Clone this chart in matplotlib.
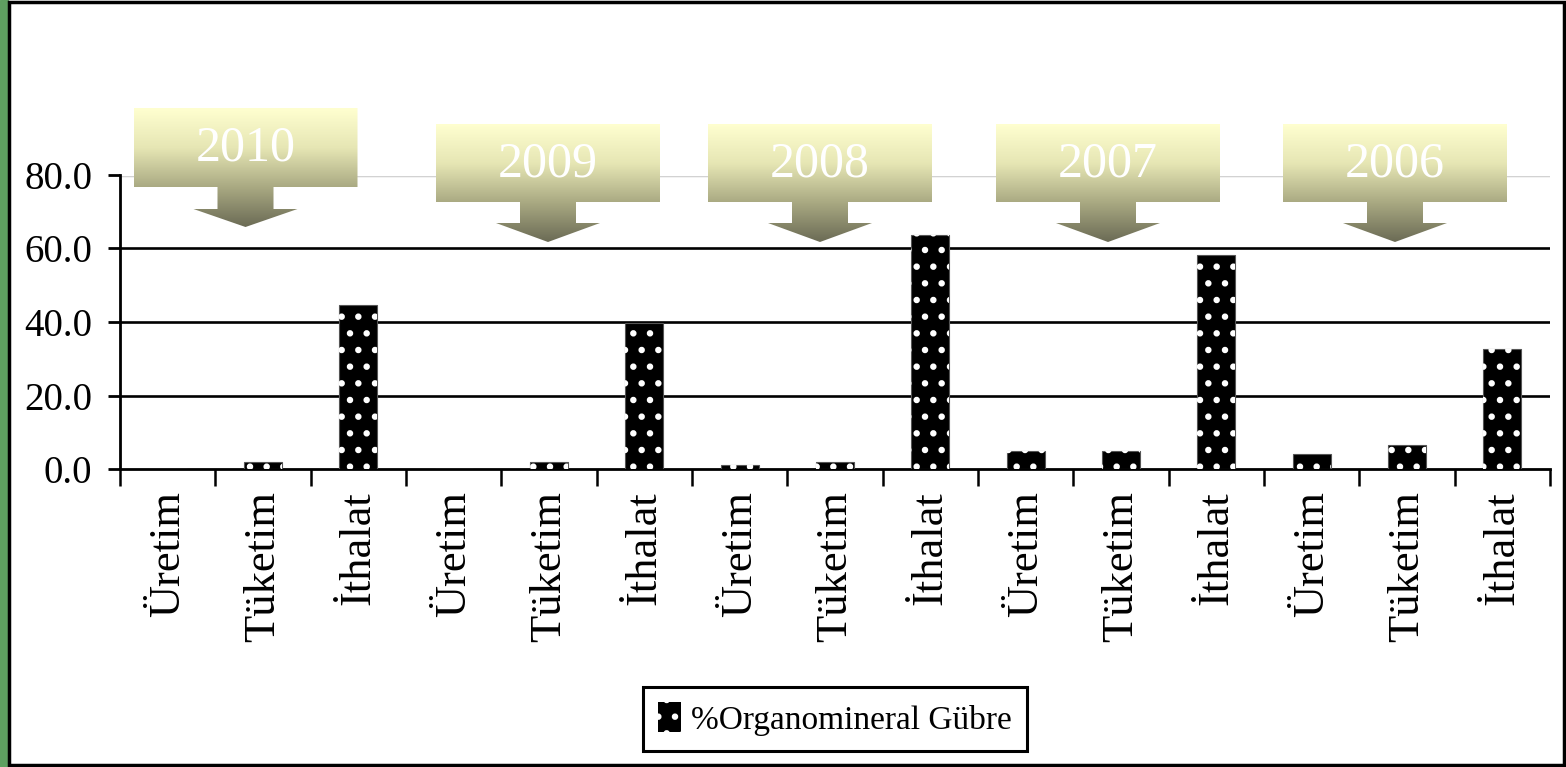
import matplotlib.pyplot as plt
import numpy as np
from matplotlib.patches import Patch, Polygon, Rectangle

# data
years = ["2010", "2009", "2008", "2007", "2006"]
kinds = ["Üretim", "Tüketim", "İthalat"]
uretim = [0.0, 0.0, 1.0, 4.9, 4.1]
tuketim = [1.8, 1.8, 2.0, 4.9, 6.5]
ithalat = [44.6, 39.7, 63.7, 58.2, 32.6]
series_name = "%Organomineral Gübre"
y_ticks = [0.0, 20.0, 40.0, 60.0, 80.0]

W, H = 1566, 767
SERIF = "Liberation Serif"
plt.rcParams["hatch.linewidth"] = 2.2

labels = []
vals = []
for i in range(len(years)):
    labels += kinds
    vals += [uretim[i], tuketim[i], ithalat[i]]
x = np.arange(len(vals)) + 0.5

fig = plt.figure(figsize=(W / 100, H / 100), dpi=100, facecolor="white")
ax = fig.add_axes([120 / W, 1 - 469 / H, 1430 / W, (469 - 175) / H])
ax.set_xlim(0, len(vals))
ax.set_ylim(0, 80)

# gridlines
for yt in y_ticks[1:-1]:
    ax.axhline(yt, color="black", lw=1.9, zorder=1)
ax.axhline(80, color="#c8c8c8", lw=3.2, zorder=1)
ax.axhline(80, color="white", lw=1.0, zorder=1)

# bars: black fill, white dot hatch on top
ax.bar(x, vals, width=0.4, color="black", edgecolor="#555555", lw=0.8, zorder=3)
ax.bar(x, vals, width=0.4, facecolor="none", edgecolor="white", lw=0,
       hatch=".", zorder=4)

for s in ["top", "right"]:
    ax.spines[s].set_visible(False)
ax.spines["left"].set_linewidth(2)
ax.spines["bottom"].set_linewidth(2)

ax.set_yticks(y_ticks)
ax.set_yticklabels([f"{v:.1f}" for v in y_ticks], fontfamily=SERIF, fontsize=28)
ax.tick_params(axis="y", direction="out", length=9, width=2, pad=11)

ax.set_xticks(np.arange(len(vals) + 1))
ax.set_xticklabels([])
ax.tick_params(axis="x", which="major", direction="out", length=12, width=1.8)
ax.set_xticks(x, minor=True)
ax.set_xticklabels(labels, minor=True, rotation=90, fontfamily=SERIF, fontsize=32)
ax.tick_params(axis="x", which="minor", length=0, pad=16)

handle = Patch(facecolor="black", edgecolor="white", hatch=".", lw=0)
leg = ax.legend([handle], [series_name], loc="center",
                bbox_to_anchor=(835 / W, 1 - 719 / H), bbox_transform=fig.transFigure,
                prop={"family": SERIF, "size": 24}, fancybox=False, framealpha=1,
                edgecolor="black", handlelength=0.7, handleheight=1.0,
                handletextpad=0.3, borderpad=0.45, borderaxespad=0)
leg.get_frame().set_linewidth(2.2)

# overlay in pixel coordinates for the frame and the year callouts
ov = fig.add_axes([0, 0, 1, 1], zorder=5)
ov.set_xlim(0, W)
ov.set_ylim(H, 0)
ov.axis("off")

ov.add_patch(Rectangle((0, 0), 8, H, color="#5e9f60", zorder=1))
ov.add_patch(Rectangle((9, 1.5), W - 11, H - 3.5, fill=False, ec="black", lw=2.5, zorder=2))

cmap = plt.matplotlib.colors.LinearSegmentedColormap.from_list(
    "callout", ["#ffffd0", "#e6e6b4", "#a9a982", "#6b6b55"])
grad = np.linspace(0, 1, 256).reshape(-1, 1)

callouts = [
    (245.5, 108, 187, 209, 227),
    (548, 124, 202, 223, 242),
    (820, 124, 202, 223, 242),
    (1108, 124, 202, 223, 242),
    (1395, 124, 202, 223, 242),
]
for year, (cx, top, bot, stem, tip) in zip(years, callouts):
    pts = [(cx - 112, top), (cx + 112, top), (cx + 112, bot), (cx + 28, bot),
           (cx + 28, stem), (cx + 52, stem), (cx, tip), (cx - 52, stem),
           (cx - 28, stem), (cx - 28, bot), (cx - 112, bot)]
    poly = Polygon(pts, closed=True, fc="none", ec="none")
    ov.add_patch(poly)
    im = ov.imshow(grad, cmap=cmap, aspect="auto",
                   extent=(cx - 112, cx + 112, tip, top), zorder=3)
    im.set_clip_path(poly)
    ov.text(cx, (top + bot) / 2 + 1, year, color="white", ha="center", va="center",
            fontfamily=SERIF, fontsize=36, zorder=4)

ov.set_xlim(0, W)
ov.set_ylim(H, 0)

fig.savefig("out.png", dpi=100)
